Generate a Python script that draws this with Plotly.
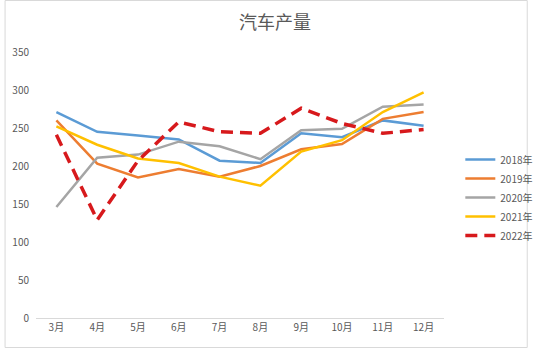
import plotly.graph_objects as go

# Monthly car production, March to December, one series per year
months = ["3月", "4月", "5月", "6月", "7月", "8月", "9月", "10月", "11月", "12月"]
y2018 = [271, 245, 240, 235, 207, 204, 243, 238, 260, 253]
y2019 = [260, 203, 185, 196, 186, 200, 222, 229, 262, 271]
y2020 = [146, 211, 215, 232, 226, 209, 247, 249, 278, 281]
y2021 = [252, 228, 210, 204, 186, 174, 219, 234, 271, 297]
y2022 = [241, 129, 207, 258, 245, 243, 276, 256, 243, 248]

series = [
    ("2018年", y2018, "#5B9BD5", 2.5, "solid"),
    ("2019年", y2019, "#ED7D31", 2.5, "solid"),
    ("2020年", y2020, "#A5A5A5", 2.5, "solid"),
    ("2021年", y2021, "#FFC000", 2.5, "solid"),
    ("2022年", y2022, "#D7191C", 3.5, "12px,7px"),
]

font_family = "Noto Sans CJK SC, Liberation Sans, sans-serif"

fig = go.Figure()
for name, vals, color, width, dash in series:
    fig.add_trace(go.Scatter(
        x=months, y=vals, name=name, mode="lines",
        line=dict(color=color, width=width, dash=dash),
    ))

fig.update_layout(
    width=550, height=348,
    margin=dict(l=33, r=88, t=52, b=30),
    paper_bgcolor="white", plot_bgcolor="white",
    font=dict(family=font_family, size=10, color="#595959"),
    title=dict(text="汽车产量", x=0.5, xanchor="center", y=0.935, yanchor="middle",
               font=dict(family=font_family, size=18, color="#595959")),
    legend=dict(x=1.04, xanchor="left", y=0.65, yanchor="top",
                font=dict(size=10, color="#595959"), tracegroupgap=0,
                itemwidth=30, bgcolor="rgba(0,0,0,0)"),
    showlegend=True,
)
fig.update_xaxes(range=[-0.5, 9.5], showgrid=False, showline=True,
                 linecolor="#D9D9D9", linewidth=1, ticks="",
                 tickfont=dict(size=10, color="#595959"), zeroline=False)
fig.update_yaxes(range=[0, 350], dtick=50, showgrid=False, showline=False,
                 zeroline=False, ticks="", ticklabelstandoff=6,
                 tickfont=dict(size=10, color="#595959"))

# Light border around the whole chart area
fig.add_shape(type="rect", xref="paper", yref="paper",
              x0=-0.0758, x1=1.204, y0=-0.1109, y1=1.1936,
              line=dict(color="#D9D9D9", width=1), fillcolor="rgba(0,0,0,0)")

fig.write_html("out.html")
